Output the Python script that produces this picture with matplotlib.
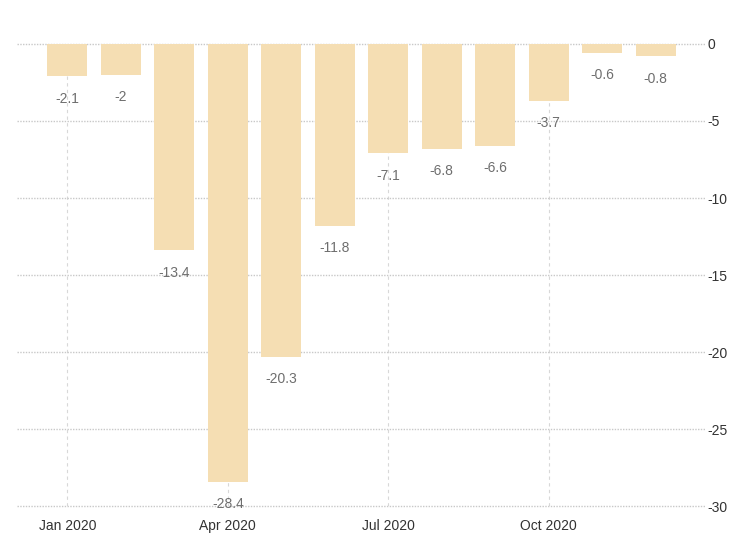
import matplotlib
matplotlib.use("Agg")
import matplotlib.pyplot as plt

months = ["Jan", "Feb", "Mar", "Apr", "May", "Jun", "Jul", "Aug", "Sep", "Oct", "Nov", "Dec"]
values = [-2.1, -2, -13.4, -28.4, -20.3, -11.8, -7.1, -6.8, -6.6, -3.7, -0.6, -0.8]
labels = ["-2.1", "-2", "-13.4", "-28.4", "-20.3", "-11.8", "-7.1", "-6.8", "-6.6", "-3.7", "-0.6", "-0.8"]
xtick_idx = [0, 3, 6, 9]
xtick_labels = ["Jan 2020", "Apr 2020", "Jul 2020", "Oct 2020"]
yticks = [0, -5, -10, -15, -20, -25, -30]

plt.rcParams["font.family"] = ["Liberation Sans", "DejaVu Sans"]

fig = plt.figure(figsize=(7.29, 5.42), dpi=100)
ax = fig.add_axes([0.023, 0.066, 0.944, 0.853])

x = list(range(len(values)))
ax.bar(x, values, width=0.75, color="#F5DEB3", zorder=2)

for xi, v, lab in zip(x, values, labels):
    ax.annotate(lab, (xi, v), xytext=(0, -11), textcoords="offset points",
                ha="center", va="top", fontsize=10, color="#6e6e6e", zorder=3)

ax.set_xlim(-0.944, 11.92)
ax.set_ylim(-30, 0)
ax.set_yticks(yticks)
ax.set_yticklabels([str(t) for t in yticks])
ax.yaxis.tick_right()
ax.set_xticks(xtick_idx)
ax.set_xticklabels(xtick_labels)
ax.tick_params(axis="both", length=0, labelsize=10, colors="#333333")
ax.tick_params(axis="y", pad=2)
ax.tick_params(axis="x", pad=9)

ax.grid(axis="y", linestyle=(0, (1, 1)), color="#c8c8c8", linewidth=1, zorder=1)
ax.grid(axis="x", linestyle=(0, (3, 3)), color="#d8d8d8", linewidth=0.8, zorder=1)
for gl in ax.get_ygridlines():
    gl.set_clip_on(False)
ax.set_axisbelow(True)
for s in ax.spines.values():
    s.set_visible(False)

fig.savefig("out.png", dpi=100)
